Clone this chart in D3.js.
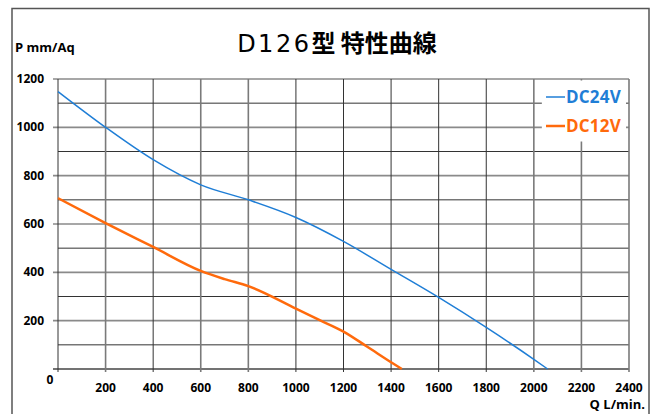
<!DOCTYPE html>
<html>
<head>
<meta charset="utf-8">
<script src="https://cdn.jsdelivr.net/npm/d3@7"></script>
<style>
  html, body { margin: 0; padding: 0; background: #fff; overflow: hidden; }
  svg { display: block; }
  text { font-family: "Open Sans", "Noto Sans", sans-serif; }
</style>
</head>
<body>
<div id="chart"></div>
<script>
var outerWidth = 654, outerHeight = 414
var margins = {top: 79, right: 25, bottom: 45, left: 58}
var innerWidth = 629 - margins.left
var innerHeight = 369 - margins.top

var xTicks = [0, 200, 400, 600, 800, 1000, 1200, 1400, 1600, 1800, 2000, 2200, 2400]
var yTicks = [0, 200, 400, 600, 800, 1000, 1200]
var yMinor = [100, 300, 500, 700, 900, 1100]
// lighter, thicker vertical grid lines
var xGray = [200, 600, 800, 2000, 2200, 2400]

// values
var dc24_q = [0, 200, 400, 600, 800, 1000, 1200, 1400, 1600, 1800, 2000, 2058]
var dc24_p = [1148, 1000, 866, 762, 700, 627, 528, 412, 296, 172, 40, 0]
var dc12_q = [0, 200, 400, 600, 700, 800, 1000, 1100, 1200, 1300, 1400, 1445]
var dc12_p = [707, 604, 505, 406, 372, 343, 250, 202, 155, 92, 28, 0]

var blue = "#1f7ed6", orange = "#ff6a0c"

var svg = d3.select("#chart").append("svg")
    .attr("width", outerWidth)
    .attr("height", outerHeight)

// frame
svg.append("path")
    .attr("d", "M12,414 L12,8.5 L649,8.5 L649,414")
    .attr("fill", "none")
    .attr("stroke", "#555")
    .attr("stroke-width", 1.5)

var plot = svg.append("g")
    .attr("transform", "translate(" + margins.left + "," + margins.top + ")")

var xScale = d3.scaleLinear().domain([0, 2400]).range([0, innerWidth])
var yScale = d3.scaleLinear().domain([0, 1200]).range([innerHeight, 0])

// horizontal grid
plot.selectAll(".hmaj").data(yTicks).enter().append("line")
    .attr("x1", -5).attr("x2", innerWidth)
    .attr("y1", d => yScale(d)).attr("y2", d => yScale(d))
    .style("stroke", d => d == 0 ? "#444" : "#8a8a8a")
    .style("stroke-width", 1.6)
plot.selectAll(".hmin").data(yMinor).enter().append("line")
    .attr("x1", 0).attr("x2", innerWidth)
    .attr("y1", d => yScale(d)).attr("y2", d => yScale(d))
    .style("stroke", "#333")
    .style("stroke-width", 1)

// vertical grid
plot.selectAll(".vg").data(xTicks).enter().append("line")
    .attr("x1", d => xScale(d)).attr("x2", d => xScale(d))
    .attr("y1", 0).attr("y2", innerHeight + 3)
    .style("stroke", d => xGray.includes(d) ? "#7a7a7a" : "#333")
    .style("stroke-width", d => xGray.includes(d) ? 1.6 : 1)

// legend box covers the grid
plot.append("rect")
    .attr("x", xScale(2000) + 8).attr("y", 1.5)
    .attr("width", xScale(2400) - xScale(2000) - 11)
    .attr("height", 61)
    .attr("fill", "#fff")

var line = d3.line()
    .x(d => xScale(d[0]))
    .y(d => yScale(d[1]))
    .curve(d3.curveMonotoneX)

plot.append("path")
    .datum(d3.zip(dc24_q, dc24_p))
    .attr("d", line)
    .attr("fill", "none")
    .attr("stroke", blue)
    .attr("stroke-width", 1.5)

plot.append("path")
    .datum(d3.zip(dc12_q, dc12_p))
    .attr("d", line)
    .attr("fill", "none")
    .attr("stroke", orange)
    .attr("stroke-width", 2.5)

// tick labels
plot.selectAll(".yl").data(yTicks.filter(d => d > 0)).enter().append("text")
    .attr("x", -14).attr("y", d => yScale(d) + 4)
    .attr("text-anchor", "end")
    .attr("font-size", "12px").attr("font-weight", "bold")
    .text(d => d)
plot.append("text")
    .attr("x", -8).attr("y", innerHeight + 15)
    .attr("text-anchor", "middle")
    .attr("font-size", "12px").attr("font-weight", "bold")
    .text("0")
plot.selectAll(".xl").data(xTicks.filter(d => d > 0)).enter().append("text")
    .attr("x", d => xScale(d)).attr("y", innerHeight + 23)
    .attr("text-anchor", "middle")
    .attr("font-size", "12px").attr("font-weight", "bold")
    .text(d => d)

// axis titles
svg.append("text")
    .attr("x", 15).attr("y", 52)
    .attr("font-size", "13px").attr("font-weight", "bold")
    .text("P mm/Aq")
svg.append("text")
    .attr("x", 645).attr("y", 409)
    .attr("text-anchor", "end")
    .attr("font-size", "13px").attr("font-weight", "bold")
    .text("Q L/min.")

// title
var title = svg.append("text")
    .attr("x", 337).attr("y", 52)
    .attr("text-anchor", "middle")
    .attr("font-size", "24px")
title.append("tspan").attr("font-family", "DejaVu Sans").attr("letter-spacing", "2.5px").text("D126")
title.append("tspan").attr("font-family", "Noto Sans CJK JP").attr("font-weight", "bold").text("型 特性曲線")

// legend
var legend = [["DC24V", blue, 1.5], ["DC12V", orange, 2.5]]
legend.forEach(function(l, i) {
    var y = 97 + i * 29
    svg.append("line")
        .attr("x1", 546).attr("x2", 565)
        .attr("y1", y).attr("y2", y)
        .attr("stroke", l[1]).attr("stroke-width", l[2])
    svg.append("text")
        .attr("x", 566).attr("y", y + 6)
        .attr("font-size", "17px").attr("font-weight", "bold")
        .attr("letter-spacing", "0.2px")
        .attr("fill", l[1])
        .text(l[0])
})
</script>
</body>
</html>
